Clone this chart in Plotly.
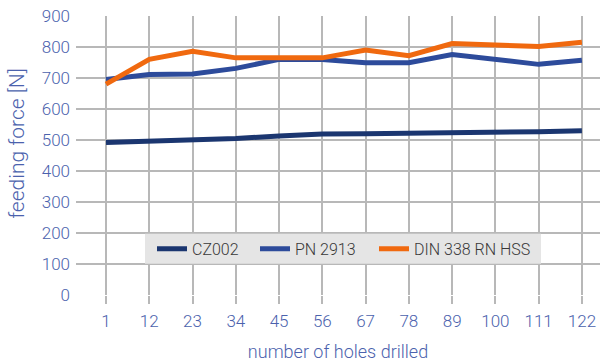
import plotly.graph_objects as go

# Number of holes drilled (measurement points)
holes = [1, 12, 23, 34, 45, 56, 67, 78, 89, 100, 111, 122]

# Feeding force [N] per drill type
cz002 = [492, 495, 498, 505, 513, 519, 520, 521, 523, 525, 527, 530]
pn2913 = [695, 711, 713, 731, 760, 760, 749, 749, 776, 760, 744, 757]
din338 = [680, 760, 786, 765, 765, 765, 790, 772, 811, 806, 802, 815]

series = [
    ("CZ002", cz002, "#1b3670", "legend"),
    ("PN 2913", pn2913, "#2d4b9b", "legend2"),
    ("DIN 338 RN HSS", din338, "#f0690f", "legend3"),
]

axis_color = "#4b62ad"
grid_color = "#b8b8b8"
font_family = "Roboto, Open Sans, sans-serif"

L, W = 76, 524          # plot area left edge and width in px
T, H = 16, 279.3        # plot area top edge and height in px


def px_x(p):
    return (p - L) / W


def px_y(p):
    return (T + H - p) / H


fig = go.Figure()
for name, vals, color, leg in series:
    fig.add_trace(go.Scatter(
        x=holes, y=vals, name=name, mode="lines",
        line=dict(color=color, width=5), legend=leg,
    ))

legend_common = dict(
    orientation="h", xanchor="left", yanchor="middle", y=px_y(249),
    bgcolor="rgba(0,0,0,0)",
    font=dict(color="#383838", size=16, family=font_family, weight=300),
    itemwidth=30,
)

fig.update_layout(
    width=600, height=362,
    margin=dict(l=L, r=0, t=T, b=362 - T - H),
    paper_bgcolor="white", plot_bgcolor="white",
    font=dict(family=font_family, color=axis_color, size=15, weight=300),
    showlegend=True,
    legend=dict(legend_common, x=px_x(152)),
    legend2=dict(legend_common, x=px_x(255)),
    legend3=dict(legend_common, x=px_x(374)),
    shapes=[dict(
        type="rect", xref="paper", yref="paper", layer="above",
        x0=px_x(145), x1=px_x(541), y0=px_y(264), y1=px_y(234),
        fillcolor="#e5e5e5", line=dict(width=0),
    )],
    xaxis=dict(
        range=[-6.63, 126.6],
        tickmode="array", tickvals=holes, ticktext=[str(h) for h in holes],
        showgrid=True, gridcolor=grid_color, gridwidth=1.5,
        zeroline=False, showline=False,
        ticks="outside", ticklen=8, tickcolor=grid_color, tickwidth=1.5,
        ticklabelstandoff=3,
        tickfont=dict(size=17, color=axis_color, weight=300),
        title=dict(text="number of holes drilled",
                   font=dict(size=18, color=axis_color, weight=300), standoff=19),
    ),
    yaxis=dict(
        range=[0, 900], dtick=100,
        showgrid=True, gridcolor=grid_color, gridwidth=1.5,
        zeroline=False, showline=False,
        ticks="", ticklabelstandoff=5,
        tickfont=dict(size=17, color=axis_color, weight=300),
    ),
    annotations=[dict(
        text="feeding force [N]", textangle=-90,
        x=px_x(17), xref="paper", y=px_y(144), yref="paper",
        xanchor="center", yanchor="middle", showarrow=False,
        font=dict(size=21, color=axis_color, weight=300),
    )],
)

fig.write_html("out.html")
